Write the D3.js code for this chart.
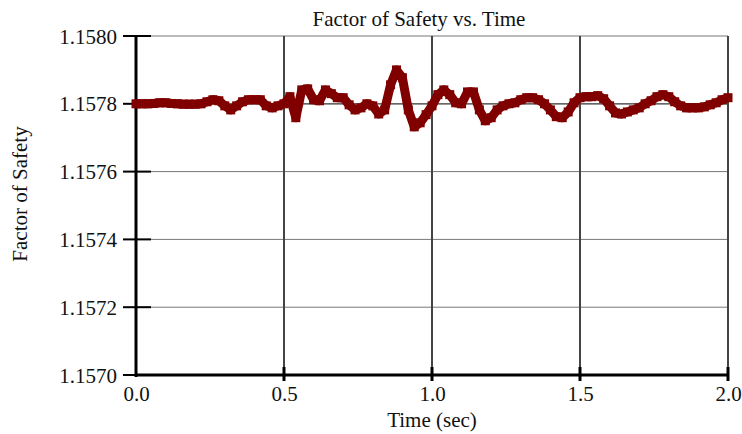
<!DOCTYPE html>
<html>
<head>
<meta charset="utf-8">
<script src="https://cdn.jsdelivr.net/npm/d3@7"></script>
<style>
  html, body { margin: 0; padding: 0; background: #fff; }
  svg { display: block; font-family: "Liberation Serif", "DejaVu Serif", serif; }
</style>
</head>
<body>
<svg id="chart" width="742" height="434"></svg>
<script>
const title = "Factor of Safety vs. Time";
const xLabel = "Time (sec)";
const yLabel = "Factor of Safety";
const xTicks = [0.0, 0.5, 1.0, 1.5, 2.0];
const yTicks = [1.1570, 1.1572, 1.1574, 1.1576, 1.1578, 1.1580];

const time = [
  0.00,0.02,0.04,0.06,0.08,0.10,0.12,0.14,0.16,0.18,
  0.20,0.22,0.24,0.26,0.28,0.30,0.32,0.34,0.36,0.38,
  0.40,0.42,0.44,0.46,0.48,0.50,0.52,0.54,0.56,0.58,
  0.60,0.62,0.64,0.66,0.68,0.70,0.72,0.74,0.76,0.78,
  0.80,0.82,0.84,0.86,0.88,0.90,0.92,0.94,0.96,0.98,
  1.00,1.02,1.04,1.06,1.08,1.10,1.12,1.14,1.16,1.18,
  1.20,1.22,1.24,1.26,1.28,1.30,1.32,1.34,1.36,1.38,
  1.40,1.42,1.44,1.46,1.48,1.50,1.52,1.54,1.56,1.58,
  1.60,1.62,1.64,1.66,1.68,1.70,1.72,1.74,1.76,1.78,
  1.80,1.82,1.84,1.86,1.88,1.90,1.92,1.94,1.96,1.98,
  2.00
];
const fos = [
  1.157800,1.157800,1.157800,1.157801,1.157803,1.157803,1.157801,1.157800,1.157799,1.157799,
  1.157799,1.157800,1.157806,1.157812,1.157809,1.157794,1.157782,1.157794,1.157806,1.157812,
  1.157812,1.157812,1.157794,1.157788,1.157794,1.157800,1.157821,1.157759,1.157841,1.157844,
  1.157812,1.157809,1.157841,1.157830,1.157818,1.157818,1.157797,1.157782,1.157788,1.157800,
  1.157794,1.157770,1.157782,1.157856,1.157900,1.157877,1.157782,1.157732,1.157744,1.157768,
  1.157794,1.157827,1.157841,1.157827,1.157803,1.157800,1.157835,1.157835,1.157782,1.157750,
  1.157759,1.157782,1.157794,1.157800,1.157803,1.157812,1.157818,1.157818,1.157812,1.157800,
  1.157782,1.157762,1.157759,1.157776,1.157803,1.157818,1.157821,1.157821,1.157824,1.157815,
  1.157794,1.157773,1.157770,1.157776,1.157782,1.157788,1.157800,1.157809,1.157821,1.157827,
  1.157821,1.157806,1.157794,1.157788,1.157788,1.157788,1.157791,1.157797,1.157803,1.157812,
  1.157818
];

const svg = d3.select("#chart");
const pL = 136, pR = 728, pT = 36, pB = 375;
const fs = 21;

const x = d3.scaleLinear().domain([0, 2]).range([pL, pR]);
const y = d3.scaleLinear().domain([1.1570, 1.1580]).range([pB, pT]);

// horizontal gridlines
svg.append("g").selectAll("line").data(yTicks.slice(1)).join("line")
  .attr("x1", pL).attr("x2", pR)
  .attr("y1", d => y(d)).attr("y2", d => y(d))
  .attr("stroke", d => d === 1.1578 ? "#333" : "#777")
  .attr("stroke-width", d => d === 1.1578 ? 1.3 : 1);

// vertical gridlines
svg.append("g").selectAll("line").data(xTicks.slice(1)).join("line")
  .attr("x1", d => x(d)).attr("x2", d => x(d))
  .attr("y1", pT).attr("y2", pB)
  .attr("stroke", "#444").attr("stroke-width", 2);

// y axis
const yAxis = d3.axisLeft(y).tickValues(yTicks).tickFormat(d3.format(".4f")).tickSize(0).tickPadding(19);
const gy = svg.append("g").attr("transform", `translate(${pL},0)`).call(yAxis);
gy.select(".domain").remove();
gy.selectAll("text").attr("font-size", fs).attr("fill", "#111")
  .attr("font-family", "Liberation Serif, serif").attr("dy", "0.34em");
svg.append("g").selectAll("line").data(yTicks).join("line")
  .attr("x1", pL - 13).attr("x2", pL + 15)
  .attr("y1", d => y(d)).attr("y2", d => y(d))
  .attr("stroke", "#000").attr("stroke-width", 2);
svg.append("line").attr("x1", pL).attr("x2", pL).attr("y1", pT - 1).attr("y2", pB + 2)
  .attr("stroke", "#000").attr("stroke-width", 3);

// x axis
const xAxis = d3.axisBottom(x).tickValues(xTicks).tickFormat(d3.format(".1f")).tickSize(0);
const gx = svg.append("g").attr("transform", `translate(0,${pB})`).call(xAxis);
gx.select(".domain").remove();
gx.selectAll("text").attr("font-size", fs).attr("fill", "#111")
  .attr("font-family", "Liberation Serif, serif").attr("y", 26).attr("dy", null);
svg.append("line").attr("x1", pL - 1).attr("x2", pR + 1).attr("y1", pB).attr("y2", pB)
  .attr("stroke", "#000").attr("stroke-width", 3);
svg.append("g").selectAll("line").data(xTicks.slice(1)).join("line")
  .attr("x1", d => x(d)).attr("x2", d => x(d))
  .attr("y1", pB - 8).attr("y2", pB + 6)
  .attr("stroke", "#000").attr("stroke-width", 3);

// data line
const pts = time.map((t, i) => [t, fos[i]]);
const line = d3.line().x(d => x(d[0])).y(d => y(d[1]));
svg.append("path").datum(pts).attr("d", line)
  .attr("fill", "none").attr("stroke", "#800000").attr("stroke-width", 9)
  .attr("stroke-linejoin", "round");
svg.append("g").selectAll("rect").data(pts).join("rect")
  .attr("x", d => x(d[0]) - 4.5).attr("y", d => y(d[1]) - 4.5)
  .attr("width", 9).attr("height", 9).attr("fill", "#800000");

// title & labels
svg.append("text").attr("x", 419).attr("y", 26).attr("text-anchor", "middle")
  .attr("font-size", fs).attr("fill", "#111").text(title);
svg.append("text").attr("x", 432).attr("y", 427).attr("text-anchor", "middle")
  .attr("font-size", fs).attr("fill", "#111").text(xLabel);
svg.append("text").attr("transform", "translate(27,194) rotate(-90)").attr("text-anchor", "middle")
  .attr("font-size", fs).attr("fill", "#111").text(yLabel);
</script>
</body>
</html>
